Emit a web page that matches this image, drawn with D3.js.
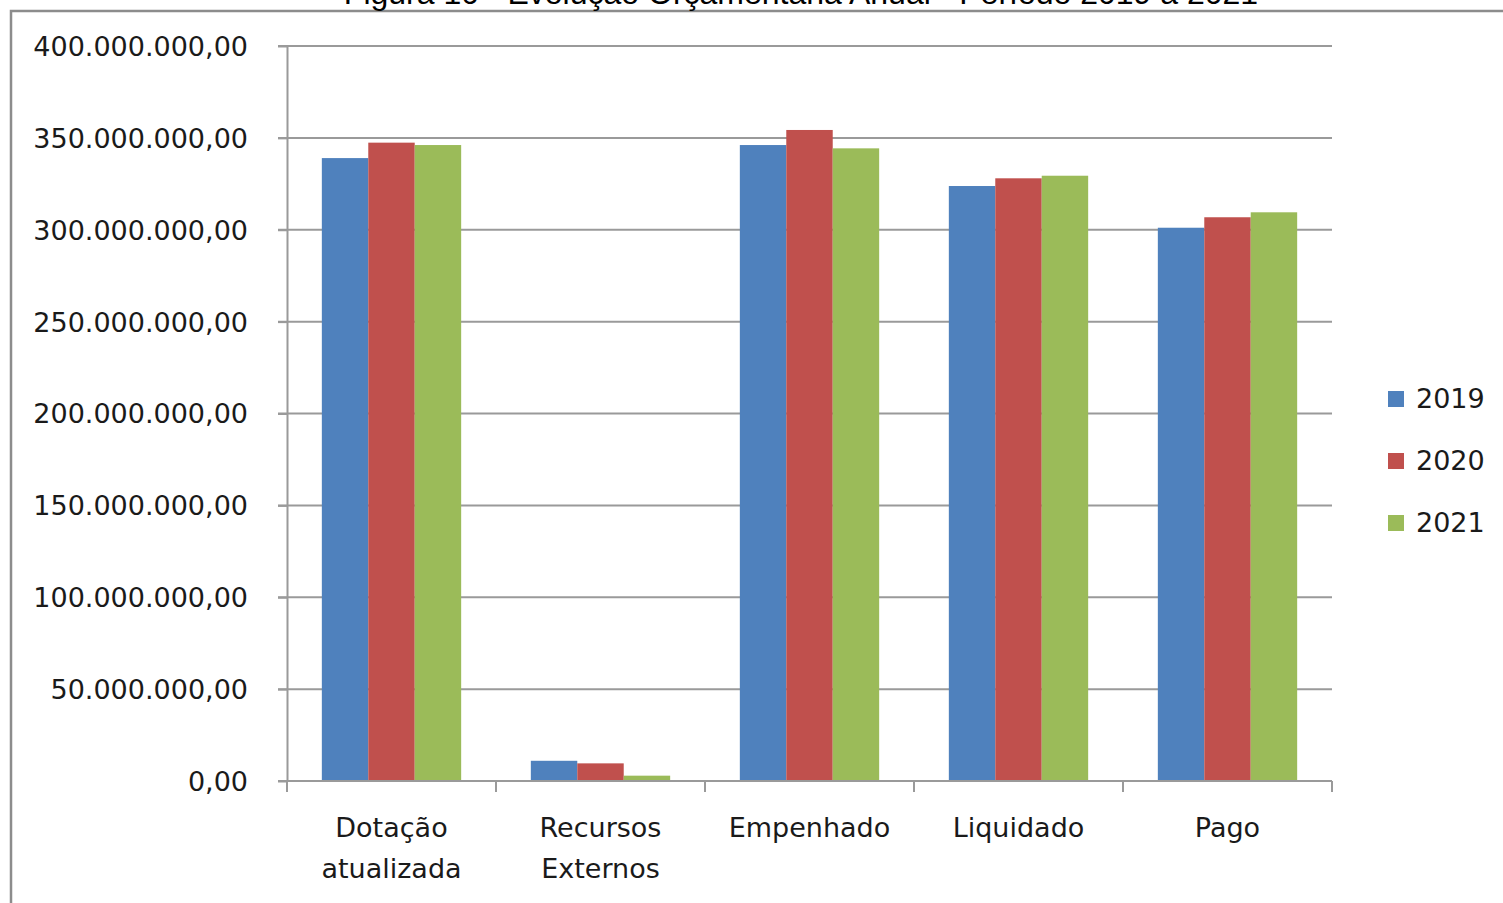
<!DOCTYPE html>
<html>
<head>
<meta charset="utf-8">
<script src="https://cdn.jsdelivr.net/npm/d3@7"></script>
<style>
  html, body { margin: 0; padding: 0; background: #fff; }
  svg { display: block; }
</style>
</head>
<body>
<svg id="chart" width="1503" height="903"></svg>
<script>
// Budget execution by stage, in R$
const categories = [["Dotação", "atualizada"], ["Recursos", "Externos"], ["Empenhado"], ["Liquidado"], ["Pago"]];
const years = ["2019", "2020", "2021"];
const values2019 = [339000000, 11000000, 346100000, 323800000, 301100000];
const values2020 = [347400000, 9600000, 354300000, 328000000, 306800000];
const values2021 = [346100000, 2900000, 344300000, 329400000, 309500000];
const yTicks = [0, 50000000, 100000000, 150000000, 200000000, 250000000, 300000000, 350000000, 400000000];
const colors = ["#4F81BD", "#C0504D", "#9BBB59"];
const title = "Figura 10 - Evolução Orçamentária Anual - Período 2019 a 2021";

const series = [values2019, values2020, values2021];
const svg = d3.select("#chart");
const font = "'DejaVu Sans', Verdana, sans-serif";
const fontSize = 27;

const plot = { left: 287, right: 1332, top: 46, bottom: 781 };

// outer frame (top and left edges)
svg.append("path")
  .attr("d", "M11,903 V11 H1503")
  .attr("fill", "none").attr("stroke", "#8c8c8c").attr("stroke-width", 2.5);

// title, running past the top edge of the frame
svg.append("text")
  .attr("x", 801).attr("y", 4)
  .attr("text-anchor", "middle")
  .attr("font-family", "'Liberation Sans', Arial, sans-serif")
  .attr("font-size", 32)
  .attr("fill", "#000")
  .text(title);

const x0 = d3.scaleBand()
  .domain(d3.range(categories.length))
  .range([plot.left, plot.right])
  .paddingInner(0).paddingOuter(0);

// three bars per group, 150% gap between groups
const x1 = d3.scaleBand()
  .domain(d3.range(years.length))
  .range([0, x0.bandwidth()])
  .paddingInner(0)
  .paddingOuter(0.75);

const y = d3.scaleLinear().domain([0, 400000000]).range([plot.bottom, plot.top]);

const locale = d3.formatLocale({ decimal: ",", thousands: ".", grouping: [3], currency: ["R$", ""] });
const fmt = locale.format(",.2f");

// horizontal gridlines
svg.append("g").selectAll("line")
  .data(yTicks.filter(d => d > 0))
  .join("line")
  .attr("x1", plot.left - 9).attr("x2", plot.right)
  .attr("y1", d => y(d)).attr("y2", d => y(d))
  .attr("stroke", "#9a9a9a").attr("stroke-width", 2);

// y axis
const yAxis = svg.append("g")
  .attr("transform", `translate(${plot.left},0)`)
  .call(d3.axisLeft(y).tickValues(yTicks).tickFormat(fmt).tickSizeInner(9).tickSizeOuter(0).tickPadding(30));
yAxis.select(".domain").attr("stroke", "#9a9a9a").attr("stroke-width", 2);
yAxis.selectAll(".tick line").attr("stroke", "#9a9a9a").attr("stroke-width", 2);
yAxis.selectAll(".tick text")
  .attr("font-family", font).attr("font-size", fontSize).attr("fill", "#1a1a1a")
  .attr("dy", "0.35em");

// bars
series.forEach((vals, si) => {
  svg.append("g").selectAll("rect")
    .data(vals)
    .join("rect")
    .attr("x", (d, i) => x0(i) + x1(si))
    .attr("width", x1.bandwidth())
    .attr("y", d => y(d))
    .attr("height", d => y(0) - y(d))
    .attr("fill", colors[si]);
});

// x axis
const xAxis = svg.append("g")
  .attr("transform", `translate(0,${plot.bottom})`);
xAxis.append("line")
  .attr("x1", plot.left - 9).attr("x2", plot.right)
  .attr("stroke", "#9a9a9a").attr("stroke-width", 2);
xAxis.selectAll(".sep")
  .data(d3.range(categories.length + 1))
  .join("line")
  .attr("class", "sep")
  .attr("x1", i => i < categories.length ? x0(i) : x0(categories.length - 1) + x0.bandwidth())
  .attr("x2", i => i < categories.length ? x0(i) : x0(categories.length - 1) + x0.bandwidth())
  .attr("y1", 0).attr("y2", 11)
  .attr("stroke", "#9a9a9a").attr("stroke-width", 2);

// category labels
categories.forEach((lines, i) => {
  const t = svg.append("text")
    .attr("text-anchor", "middle")
    .attr("font-family", font).attr("font-size", fontSize).attr("fill", "#1a1a1a");
  lines.forEach((ln, li) => {
    t.append("tspan")
      .attr("x", x0(i) + x0.bandwidth() / 2)
      .attr("y", 837 + li * 41)
      .text(ln);
  });
});

// legend
const legend = svg.append("g");
years.forEach((yr, i) => {
  const cy = 399 + i * 62;
  legend.append("rect")
    .attr("x", 1388).attr("y", cy - 8).attr("width", 16).attr("height", 16)
    .attr("fill", colors[i]);
  legend.append("text")
    .attr("x", 1416).attr("y", cy).attr("dy", "0.35em")
    .attr("font-family", font).attr("font-size", fontSize).attr("fill", "#1a1a1a")
    .text(yr);
});
</script>
</body>
</html>
